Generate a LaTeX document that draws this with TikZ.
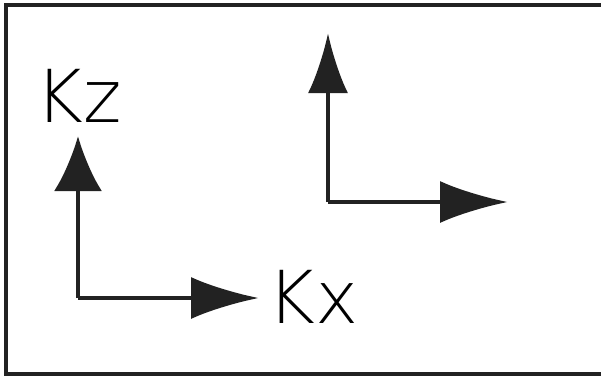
\documentclass[tikz,border=0pt]{standalone}
\usepackage{fontspec}
\newfontfamily\thinfont{DejaVu Sans ExtraLight}
\usetikzlibrary{arrows.meta}
\definecolor{ink}{HTML}{222222}
\tikzset{
  frame/.style={draw=ink, line width=4pt},
  axis/.style 2 args={draw=ink, line width=4.5pt, -{Latex[length=#1, width=#2]}},
  lbl/.style={font=\thinfont\fontsize{73}{73}\selectfont, inner sep=0pt, anchor=base, text=black}
}
\begin{document}
\begin{tikzpicture}[x=1pt,y=-1pt]
\useasboundingbox (0,0) rectangle (601,376);
\draw[frame] (5.5,5) rectangle (640,374);
% left frame
\coordinate (c1) at (78,298);
\coordinate (z1) at (78,136);
\coordinate (x1) at (259,298);
\draw[axis={55pt}{48pt}] (c1) -- (z1);
\draw[axis={68pt}{42pt}] (c1) -- (x1);
% right frame
\coordinate (c2) at (328,202);
\coordinate (z2) at (328,33);
\coordinate (x2) at (508,202);
\draw[axis={60pt}{40pt}] (c2) -- (z2);
\draw[axis={68pt}{42pt}] (c2) -- (x2);
% labels
\node[lbl] (kz) at (78.5,122) {Kz};
\node[lbl] (kx) at (313.5,323) {Kx};
\end{tikzpicture}
\end{document}
